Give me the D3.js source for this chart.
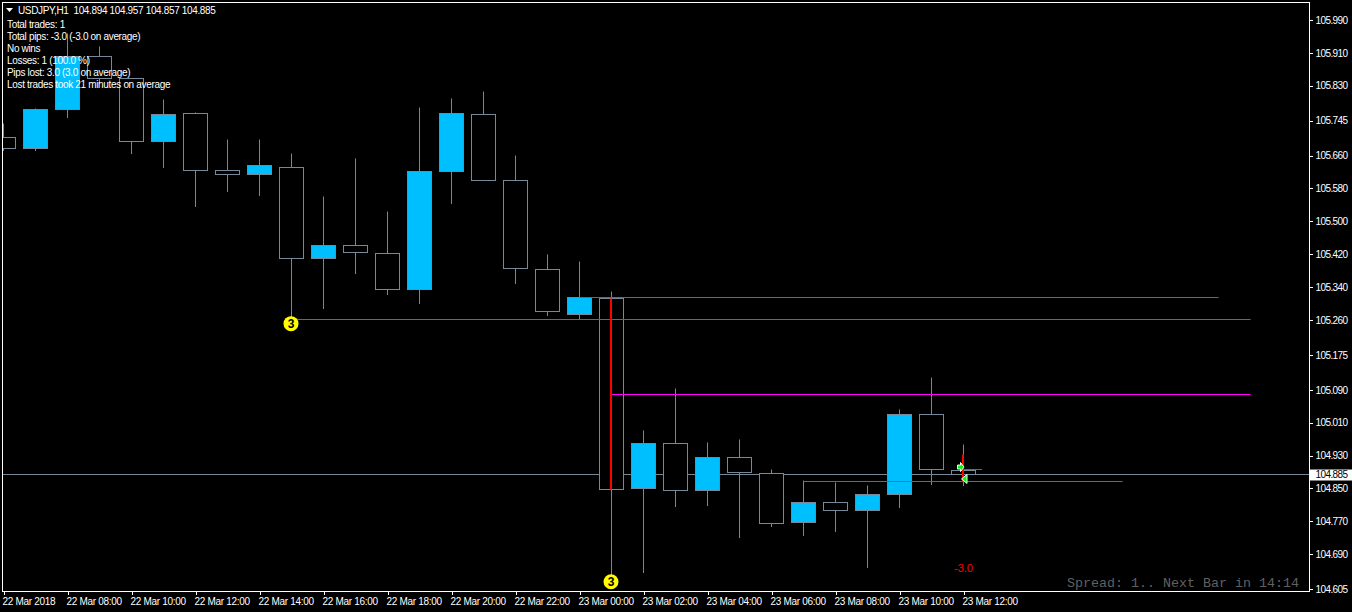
<!DOCTYPE html>
<html><head><meta charset="utf-8">
<script src="https://cdn.jsdelivr.net/npm/d3@7"></script>
<style>
html,body{margin:0;padding:0;background:#000;overflow:hidden}
svg{display:block}
text{font-family:"Liberation Sans",Arial,sans-serif;font-size:10px;fill:#fff}
</style></head><body>
<svg id="c" width="1352" height="612"></svg>
<script>
const opens =[105.704,105.677,105.772,105.902,105.847,105.695,105.763,105.624,105.614,105.631,105.410,105.441,105.422,105.334,105.621,105.760,105.600,105.383,105.273,105.312,104.849,104.959,104.844,104.925,104.886,104.766,104.815,104.796,104.835,105.029,104.894];
const highs =[105.738,105.775,105.958,105.925,105.848,105.797,105.765,105.699,105.699,105.665,105.560,105.653,105.525,105.777,105.799,105.816,105.660,105.419,105.402,105.329,104.991,105.093,104.961,104.969,104.896,104.869,104.865,104.857,105.042,105.120,104.957];
const lows  =[105.672,105.672,105.752,105.836,105.664,105.630,105.535,105.572,105.562,105.264,105.287,105.374,105.323,105.301,105.543,105.600,105.348,105.270,105.262,104.631,104.646,104.807,104.809,104.731,104.758,104.736,104.744,104.658,104.803,104.860,104.857];
const closes=[105.677,105.772,105.900,105.848,105.695,105.760,105.624,105.614,105.636,105.410,105.441,105.424,105.334,105.621,105.763,105.600,105.385,105.280,105.315,104.847,104.959,104.844,104.925,104.888,104.764,104.815,104.796,104.835,105.029,104.896,104.885];

const priceTicks=[105.990,105.910,105.830,105.745,105.660,105.580,105.500,105.420,105.340,105.260,105.175,105.090,105.010,104.930,104.850,104.770,104.690,104.605];
const timeTickBars=[0,2,4,6,8,10,12,14,16,18,20,22,24,26,28,30];
const timeTickLabels=["22 Mar 2018","22 Mar 08:00","22 Mar 10:00","22 Mar 12:00","22 Mar 14:00","22 Mar 16:00","22 Mar 18:00","22 Mar 20:00","22 Mar 22:00","23 Mar 00:00","23 Mar 02:00","23 Mar 04:00","23 Mar 06:00","23 Mar 08:00","23 Mar 10:00","23 Mar 12:00"];

const bidPrice=104.885;
const levelPrices=[105.261,105.315,105.078,104.866,104.896];
const levelStarts=[9,18,19,25,30];
const levelEnds  =[38.97,37.97,38.97,34.97,30.58];
const redBars=[19,30];
const redFrom=[105.312,104.933];
const redTo  =[104.847,104.866];
const circleBars=[9,19];
const circlePrices=[105.251,104.623];
const statLines=["Total trades: 1","Total pips: -3.0 (-3.0 on average)","No wins","Losses: 1 (100.0 %)","Pips lost: 3.0 (3.0 on average)","Lost trades took 21 minutes on average"];
const headerText="USDJPY,H1  104.894 104.957 104.857 104.885";

const svg=d3.select("#c");
const x=d3.scaleLinear().domain([0,30]).range([3.5,963.5]);
const y=d3.scaleLinear().domain([104.605,105.990]).range([589.1,20]);
const sy=v=>Math.floor(y(v))+0.5;
const GREY="#778899", BLUE="#00BFFF", MAG="#FF00FF";

svg.append("defs").append("clipPath").attr("id","plot").append("rect")
  .attr("x",3).attr("y",3).attr("width",1306).attr("height",588);
const plot=svg.append("g").attr("clip-path","url(#plot)");

plot.append("line").attr("x1",3).attr("x2",1309).attr("y1",sy(bidPrice)).attr("y2",sy(bidPrice))
  .attr("stroke",GREY);

const bars=d3.range(opens.length);
plot.selectAll("line.w").data(bars).join("line").attr("class","w")
  .attr("x1",i=>x(i)).attr("x2",i=>x(i)).attr("y1",i=>sy(highs[i])).attr("y2",i=>sy(lows[i])+.5)
  .attr("stroke",GREY);
plot.selectAll("rect.b").data(bars).join("rect").attr("class","b")
  .attr("x",i=>x(i)-12).attr("width",24)
  .attr("y",i=>sy(Math.max(opens[i],closes[i])))
  .attr("height",i=>sy(Math.min(opens[i],closes[i]))-sy(Math.max(opens[i],closes[i])))
  .attr("fill",i=>closes[i]>opens[i]?BLUE:"#000").attr("stroke",GREY);

plot.selectAll("line.l").data(levelPrices).join("line").attr("class","l")
  .attr("x1",(d,i)=>x(levelStarts[i])).attr("x2",(d,i)=>x(levelEnds[i]))
  .attr("y1",d=>sy(d)).attr("y2",d=>sy(d)).attr("stroke",MAG);

plot.selectAll("line.r").data(redBars).join("line").attr("class","r")
  .attr("x1",d=>x(d)-.5).attr("x2",d=>x(d)-.5)
  .attr("y1",(d,i)=>sy(redFrom[i])).attr("y2",(d,i)=>sy(redTo[i]))
  .attr("stroke","#f00").attr("stroke-width",2);

// entry / exit arrows
const a1=plot.append("g").attr("transform",`translate(${x(30)-2.5},${y(104.902)})`);
a1.append("path").attr("d","M-3.5,-2H-0.5V-4.5L3,0L-0.5,4.5V2H-3.5Z").attr("fill","#0f0").attr("stroke","#fff");
const a2=plot.append("g").attr("transform",`translate(${x(30)+1},${y(104.873)})`);
a2.append("path").attr("d","M-3,0L2.5,-4.5V4.5Z").attr("fill","#0f0").attr("stroke","#fff");

// numbered circles
const circ=plot.selectAll("g.m").data(circleBars).join("g").attr("class","m")
  .attr("transform",(d,i)=>`translate(${x(d)-0.5},${y(circlePrices[i])})`);
circ.append("circle").attr("r",7.5).attr("fill","#ff0");
circ.append("text").text("3").attr("text-anchor","middle").attr("y",4.5)
  .style("font-size","12px").style("font-weight","bold").style("fill","#000");

plot.append("text").attr("x",x(30)).attr("y",y(104.656)+4).attr("text-anchor","middle").text("-3.0")
  .style("fill","#f00").style("font-size","11px");
plot.append("text").attr("x",1067).attr("y",587).text("Spread: 1.. Next Bar in 14:14")
  .style("font-family","'Liberation Mono',monospace").style("font-size","13.33px").style("fill","#606060");

// frame
svg.append("rect").attr("x",2.5).attr("y",2.5).attr("width",1307).attr("height",589)
  .attr("fill","none").attr("stroke","#fff");

// axes
const yAxis=d3.axisRight(y).tickValues(priceTicks).tickFormat(d3.format(".3f")).tickSize(3).tickPadding(3);
const gy=svg.append("g").attr("transform","translate(1309.5,0)").call(yAxis);
const xAxis=d3.axisBottom(x).tickValues(timeTickBars).tickFormat((d,i)=>timeTickLabels[i]).tickSize(3).tickPadding(0);
const gx=svg.append("g").attr("transform","translate(0,591.5)").call(xAxis);
for(const g of [gx,gy]){
  g.select(".domain").remove();
  g.attr("font-family",null).attr("font-size",null);
  g.selectAll("line").attr("stroke","#fff").style("shape-rendering","crispEdges");
  g.selectAll("text").attr("fill",null);
}
gy.selectAll("text").style("letter-spacing","-0.6px");
gx.selectAll("text").attr("text-anchor","start").attr("x",-1.5).attr("y",6).style("letter-spacing","-0.3px");

// bid price tag
svg.append("rect").attr("x",1310).attr("y",sy(bidPrice)-5).attr("width",42).attr("height",11).attr("fill","#fff");
svg.append("text").attr("x",1315.5).attr("y",sy(bidPrice)+3.5).text(d3.format(".3f")(bidPrice))
  .style("fill","#000").style("letter-spacing","-0.6px");

// header
svg.append("path").attr("d","M6,8H13L9.5,12Z").attr("fill","#fff");
svg.append("text").attr("x",18).attr("y",14).attr("xml:space","preserve").style("white-space","pre").text(headerText)
  .style("letter-spacing","-0.35px");
svg.selectAll("text.s").data(statLines).join("text").attr("class","s")
  .attr("x",7).attr("y",(d,i)=>27.5+12*i).text(d=>d).style("letter-spacing","-0.33px");
</script>
</body></html>
